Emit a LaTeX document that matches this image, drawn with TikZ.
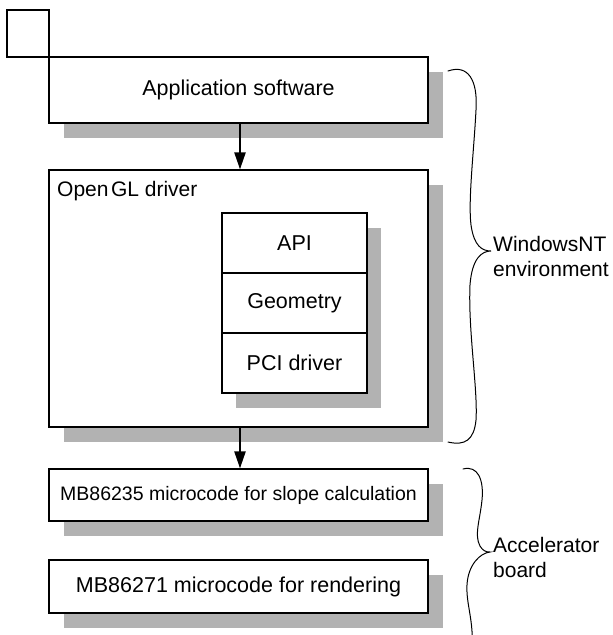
\documentclass[tikz,border=0pt]{standalone}
\usepackage{fontspec}
\setmainfont{Liberation Sans}
\usetikzlibrary{shadows,arrows.meta}
\definecolor{sh}{RGB}{178,178,178}
\tikzset{
  box/.style={draw=black, line width=1.1pt, fill=white, inner sep=0pt,
    font=\fontsize{21.5}{25}\selectfont},
  shbox/.style={box, general shadow={fill=sh, shadow xshift=15pt, shadow yshift=-15pt}},
  arr/.style={line width=2.2pt, -{Triangle[length=17pt,width=11pt]}},
  brace/.style={line width=1pt, line cap=round},
  lbl/.style={font=\fontsize{21}{25}\selectfont, align=left, inner sep=0pt}
}
\begin{document}
\begin{tikzpicture}[x=1pt,y=-1pt]
\useasboundingbox (0,0) rectangle (613,635);
% corner square
\node[draw=black, line width=1.1pt, minimum width=42pt, minimum height=47pt, inner sep=0pt] (corner) at (28,33.5) {};
% application
\node[shbox, minimum width=379pt, minimum height=66pt] (app) at (238.5,90) {Application software};
% OpenGL driver
\node[shbox, minimum width=379pt, minimum height=257pt] (ogl) at (238.5,298.5) {};
\node[anchor=west, inner sep=0pt, font=\fontsize{21}{25}\selectfont] (ogllbl) at (57,191) {Open\hspace{0.12em}GL driver};
% stack shadow
\fill[sh] (236,228) rectangle (381,408);
\node[box, minimum width=145pt, minimum height=60pt] (api) at (294.5,243) {API};
\node[box, minimum width=145pt, minimum height=60pt] (geom) at (294.5,303) {Geometry};
\node[box, minimum width=145pt, minimum height=60pt] (pci) at (294.5,363) {PCI driver};
% accelerator boxes
\node[shbox, minimum width=379pt, minimum height=52pt, font=\fontsize{19.5}{23}\selectfont] (mba) at (238.5,495) {MB86235 microcode for slope calculation};
\node[shbox, minimum width=379pt, minimum height=53pt] (mbb) at (238.5,586.5) {MB86271 microcode for rendering};
% arrows
\draw[arr] (app.south -| 240,0) -- (ogl.north -| 240,0);
\draw[arr] (ogl.south -| 240,0) -- (mba.north -| 240,0);
% braces
\begin{scope}
\clip (0,0) rectangle (613,635);
\draw[brace] (448,71) .. controls (468,64) and (478,80) .. (476,110)
  .. controls (474,150) and (468,200) .. (471,225)
  .. controls (474,246) and (482,251) .. (491,251)
  .. controls (482,251) and (472,258) .. (470,285)
  .. controls (468,330) and (478,390) .. (476,420)
  .. controls (474,440) and (465,446) .. (448,442);
\draw[brace] (463,469) .. controls (478,465) and (484,480) .. (482,500)
  .. controls (480,520) and (474,535) .. (480,546)
  .. controls (483,551) and (486,552) .. (490,552)
  .. controls (480,553) and (468,565) .. (467,585)
  .. controls (466,605) and (474,620) .. (472,650);
\end{scope}
\node[lbl, anchor=west] (winnt) at (493,256) {WindowsNT\\environment};
\node[lbl, anchor=west] (accel) at (493,557.5) {Accelerator\\board};
\end{tikzpicture}
\end{document}
